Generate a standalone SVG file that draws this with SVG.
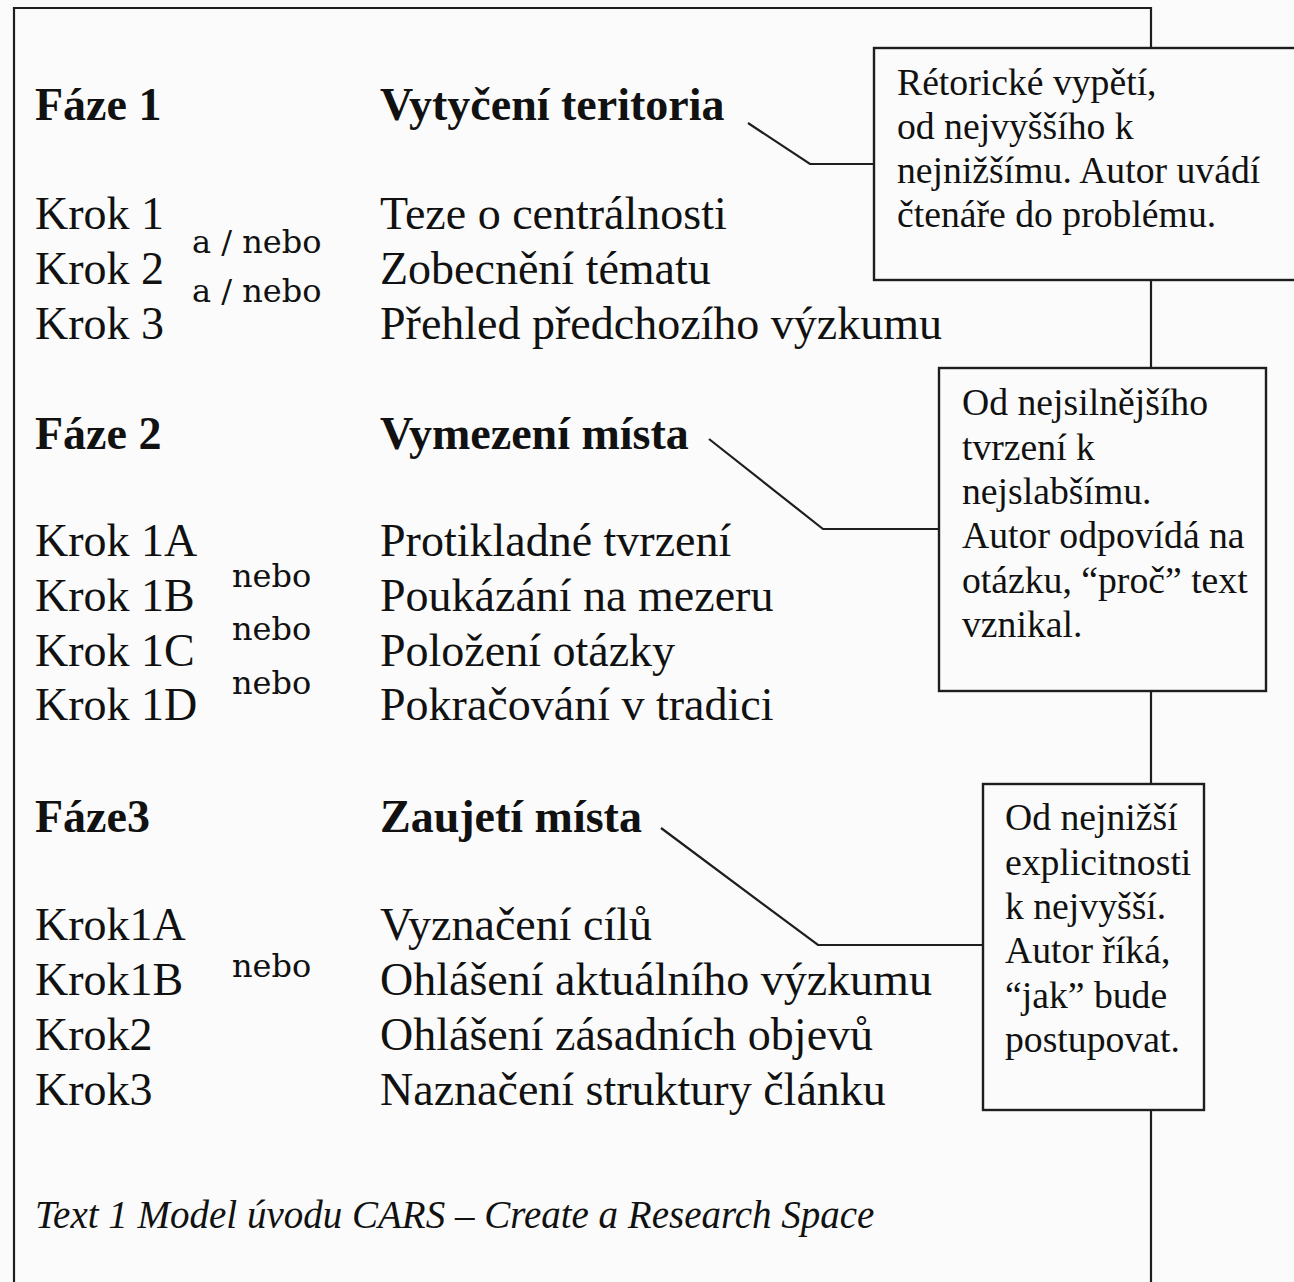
<svg xmlns="http://www.w3.org/2000/svg" width="1294" height="1282" viewBox="0 0 1294 1282">
<style>
.bg{fill:#fafbfa}
.ln{stroke:#1e1e1e;stroke-width:2.2;fill:none}
.box{fill:#fafbfa;stroke:#1e1e1e;stroke-width:2.4}
.t{font-family:"Liberation Serif","Times New Roman",serif;font-size:46px;fill:#111}
.b{font-weight:bold}
.s{font-family:"DejaVu Serif","Liberation Serif",serif;font-size:32px;fill:#111}
.n{font-family:"Liberation Serif","Times New Roman",serif;font-size:37.7px;fill:#111}
.c{font-family:"Liberation Serif","Times New Roman",serif;font-size:39px;font-style:italic;fill:#111}
</style>
<rect class="bg" x="0" y="0" width="1294" height="1282"/>
<g id="frame">
<path class="ln" d="M14,1282 V8 H1151 V1282"/>
</g>
<g id="connectors">
<path class="ln" d="M748,123 L810,164 H874"/>
<path class="ln" d="M709,439 L823,529 H939"/>
<path class="ln" d="M661,828 L818,945 H983"/>
</g>
<g id="phase1">
<text class="t b" x="35" y="120">Fáze 1</text>
<text class="t b" x="380" y="120">Vytyčení teritoria</text>
<text class="t" x="35" y="229">Krok 1</text>
<text class="t" x="35" y="284">Krok 2</text>
<text class="t" x="35" y="339">Krok 3</text>
<text class="s" x="192" y="253">a / nebo</text>
<text class="s" x="192" y="302">a / nebo</text>
<text class="t" x="380" y="229">Teze o centrálnosti</text>
<text class="t" x="380" y="284">Zobecnění tématu</text>
<text class="t" x="380" y="339">Přehled předchozího výzkumu</text>
</g>
<g id="phase2">
<text class="t b" x="35" y="449">Fáze 2</text>
<text class="t b" x="380" y="449">Vymezení místa</text>
<text class="t" x="35" y="556">Krok 1A</text>
<text class="t" x="35" y="611">Krok 1B</text>
<text class="t" x="35" y="666">Krok 1C</text>
<text class="t" x="35" y="720">Krok 1D</text>
<text class="s" x="232" y="587">nebo</text>
<text class="s" x="232" y="640">nebo</text>
<text class="s" x="232" y="694">nebo</text>
<text class="t" x="380" y="556">Protikladné tvrzení</text>
<text class="t" x="380" y="611">Poukázání na mezeru</text>
<text class="t" x="380" y="666">Položení otázky</text>
<text class="t" x="380" y="720">Pokračování v tradici</text>
</g>
<g id="phase3">
<text class="t b" x="35" y="832">Fáze3</text>
<text class="t b" x="380" y="832">Zaujetí místa</text>
<text class="t" x="35" y="940">Krok1A</text>
<text class="t" x="35" y="995">Krok1B</text>
<text class="t" x="35" y="1050">Krok2</text>
<text class="t" x="35" y="1105">Krok3</text>
<text class="s" x="232" y="977">nebo</text>
<text class="t" x="380" y="940">Vyznačení cílů</text>
<text class="t" x="380" y="995">Ohlášení aktuálního výzkumu</text>
<text class="t" x="380" y="1050">Ohlášení zásadních objevů</text>
<text class="t" x="380" y="1105">Naznačení struktury článku</text>
</g>
<g id="note1">
<rect class="box" x="874" y="48" width="440" height="232"/>
<text class="n" x="897" y="95">Rétorické vypětí,</text>
<text class="n" x="897" y="139">od nejvyššího k</text>
<text class="n" x="897" y="183">nejnižšímu. Autor uvádí</text>
<text class="n" x="897" y="227">čtenáře do problému.</text>
</g>
<g id="note2">
<rect class="box" x="939" y="368" width="327" height="323"/>
<text class="n" x="962" y="415">Od nejsilnějšího</text>
<text class="n" x="962" y="460">tvrzení k</text>
<text class="n" x="962" y="504">nejslabšímu.</text>
<text class="n" x="962" y="548">Autor odpovídá na</text>
<text class="n" x="962" y="593">otázku, “proč” text</text>
<text class="n" x="962" y="637">vznikal.</text>
</g>
<g id="note3">
<rect class="box" x="983" y="784" width="221" height="326"/>
<text class="n" x="1005" y="830">Od nejnižší</text>
<text class="n" x="1005" y="875">explicitnosti</text>
<text class="n" x="1005" y="919">k nejvyšší.</text>
<text class="n" x="1005" y="963">Autor říká,</text>
<text class="n" x="1005" y="1008">“jak” bude</text>
<text class="n" x="1005" y="1052">postupovat.</text>
</g>
<g id="caption">
<text class="c" x="35" y="1228">Text 1 Model úvodu CARS – Create a Research Space</text>
</g>
</svg>
